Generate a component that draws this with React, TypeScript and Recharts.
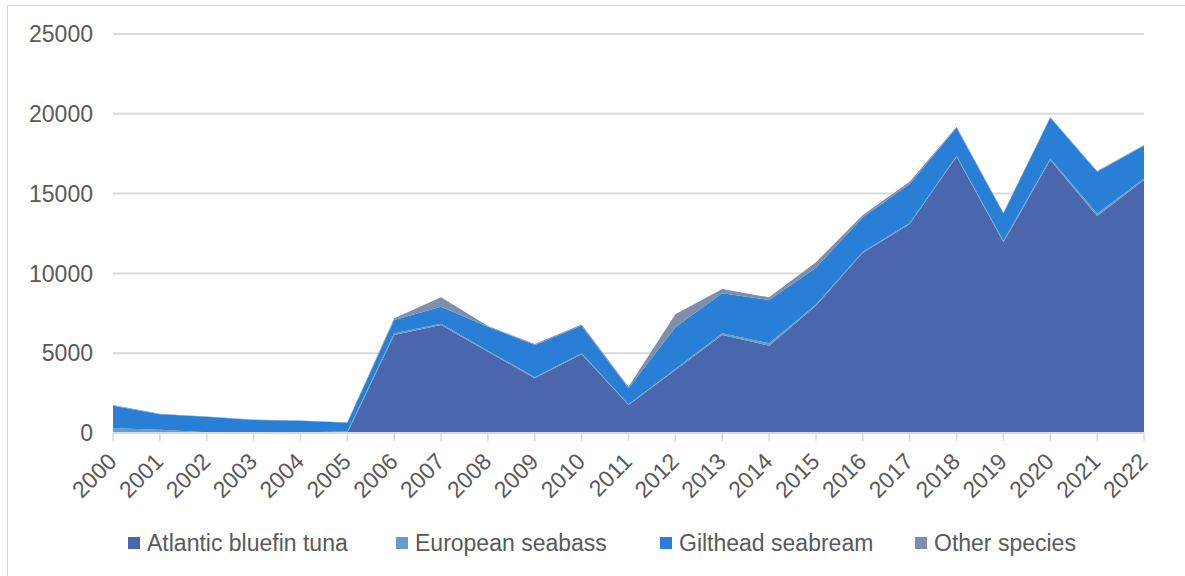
import { AreaChart, Area, XAxis, YAxis, CartesianGrid, Legend } from "recharts";

const years = [
  "2000", "2001", "2002", "2003", "2004", "2005", "2006", "2007", "2008", "2009", "2010", "2011",
  "2012", "2013", "2014", "2015", "2016", "2017", "2018", "2019", "2020", "2021", "2022",
];

const bluefinTuna = [
  0, 0, 0, 0, 0, 0, 6140, 6770, 5095, 3425, 4930, 1755,
  3950, 6140, 5470, 7980, 11300, 13100, 17310, 11950, 17100, 13600, 15850,
];
const europeanSeabass = [
  300, 200, 50, 50, 50, 100, 110, 80, 60, 75, 70, 45,
  60, 110, 150, 70, 60, 60, 60, 100, 100, 150, 100,
];
const giltheadSeabream = [
  1400, 970, 970, 770, 720, 550, 830, 1065, 1505, 2010, 1725, 1000,
  2610, 2500, 2710, 2310, 2155, 2440, 1760, 1710, 2560, 2620, 2050,
];
const otherSpecies = [
  50, 30, 20, 20, 20, 20, 110, 585, 40, 70, 75, 100,
  820, 270, 170, 340, 145, 150, 60, 40, 40, 40, 40,
];

const yTicks = [0, 5000, 10000, 15000, 20000, 25000];

const series = [
  { key: "tuna", name: "Atlantic bluefin tuna", color: "#4A66AC", left: 0 },
  { key: "seabass", name: "European seabass", color: "#629DD1", left: 268 },
  { key: "seabream", name: "Gilthead seabream", color: "#297FD5", left: 532 },
  { key: "other", name: "Other species", color: "#7F8FA9", left: 787 },
];

const data = years.map((year, i) => ({
  year,
  tuna: bluefinTuna[i],
  seabass: europeanSeabass[i],
  seabream: giltheadSeabream[i],
  other: otherSpecies[i],
}));

const FONT = "'Liberation Sans', Arial, sans-serif";
const TEXT = "#595959";
const FS = 23;

function YearTick({ x, y, payload }: any) {
  return (
    <g transform={`translate(${x + 5},${y + 20})`}>
      <text
        x={0}
        y={0}
        textAnchor="end"
        transform="rotate(-45)"
        fill={TEXT}
        fontSize={FS}
        fontFamily={FONT}
      >
        {payload.value}
      </text>
    </g>
  );
}

function LegendContent() {
  return (
    <div style={{ position: "relative", width: 1000, height: 26, fontFamily: FONT, fontSize: FS, color: TEXT, lineHeight: "26px" }}>
      {series.map((s) => (
        <div key={s.key} style={{ position: "absolute", left: s.left, top: 0, display: "flex", alignItems: "center", whiteSpace: "nowrap" }}>
          <span style={{ width: 12, height: 12, background: s.color, marginRight: 7, display: "inline-block" }} />
          <span>{s.name}</span>
        </div>
      ))}
    </div>
  );
}

export default function App() {
  return (
    <div style={{ position: "fixed", left: 0, top: 0, width: 1185, height: 576, overflow: "hidden", background: "#fff" }}>
      <div
        style={{
          position: "absolute",
          left: 7,
          top: 5,
          width: 1200,
          height: 600,
          borderLeft: "1px solid #d9d9d9",
          borderTop: "1px solid #d9d9d9",
        }}
      />
      <div style={{ position: "absolute", left: 0, top: 0 }}>
        <AreaChart width={1185} height={576} data={data} margin={{ top: 34, right: 41, bottom: 0, left: 13 }}>
          <CartesianGrid vertical={false} stroke="#d9d9d9" strokeWidth={2} />
          <XAxis
            dataKey="year"
            height={143}
            interval={0}
            tick={<YearTick />}
            axisLine={{ stroke: "#d9d9d9", strokeWidth: 2 }}
            tickLine={{ stroke: "#d9d9d9", strokeWidth: 1.5 }}
            tickSize={8}
          />
          <YAxis
            width={100}
            domain={[0, 25000]}
            ticks={yTicks}
            axisLine={false}
            tickLine={false}
            tickMargin={14}
            tick={{ fill: TEXT, fontSize: FS, fontFamily: FONT }}
          />
          {series.map((s) => (
            <Area
              key={s.key}
              type="linear"
              dataKey={s.key}
              name={s.name}
              stackId="1"
              stroke="none"
              fill={s.color}
              fillOpacity={1}
              isAnimationActive={false}
            />
          ))}
          <Legend
            layout="horizontal"
            verticalAlign="middle"
            align="center"
            content={<LegendContent />}
            wrapperStyle={{ top: 530, left: 128, width: 1000 }}
          />
        </AreaChart>
      </div>
    </div>
  );
}
